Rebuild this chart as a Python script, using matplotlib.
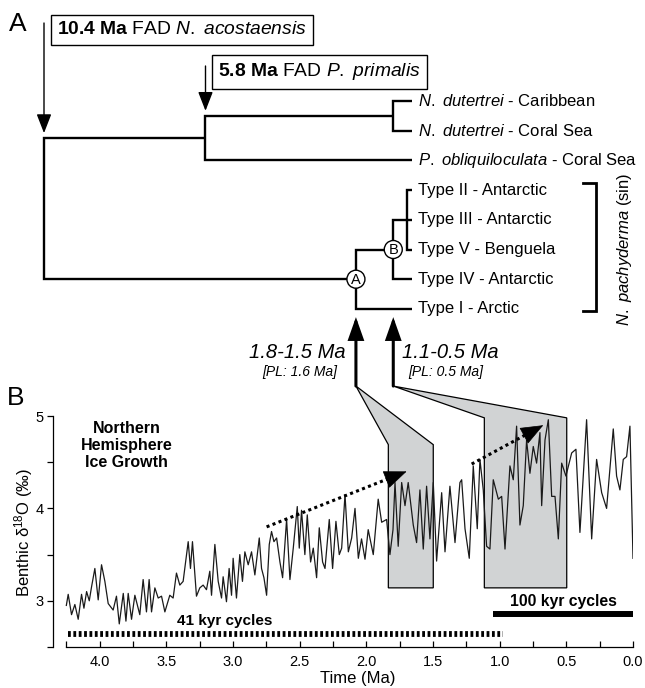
import numpy as np
import matplotlib
matplotlib.use("Agg")
import matplotlib.pyplot as plt
from matplotlib.patches import Polygon, Circle, FancyArrowPatch

plt.rcParams['font.family'] = ['Liberation Sans', 'DejaVu Sans']
plt.rcParams['mathtext.fontset'] = 'custom'
plt.rcParams['mathtext.rm'] = 'Liberation Sans'
plt.rcParams['mathtext.it'] = 'Liberation Sans:italic'
plt.rcParams['mathtext.bf'] = 'Liberation Sans:bold'

# benthic d18O stack (Ma, permil)
age = [4.250, 4.236, 4.211, 4.186, 4.161, 4.136, 4.118, 4.098, 4.078, 4.061,
       4.036, 4.011, 3.986, 3.961, 3.936, 3.899, 3.874, 3.853, 3.823, 3.803,
       3.786, 3.761, 3.736, 3.699, 3.674, 3.649, 3.629, 3.611, 3.586, 3.561,
       3.536, 3.511, 3.474, 3.449, 3.424, 3.399, 3.374, 3.336, 3.319, 3.304,
       3.274, 3.249, 3.224, 3.199, 3.174, 3.161, 3.136, 3.111, 3.086, 3.074,
       3.049, 3.029, 3.011, 2.999, 2.974, 2.949, 2.929, 2.911, 2.886, 2.861,
       2.836, 2.803, 2.786, 2.768, 2.748, 2.728, 2.711, 2.693, 2.673, 2.648,
       2.628, 2.598, 2.573, 2.548, 2.518, 2.503, 2.486, 2.461, 2.443, 2.418,
       2.398, 2.373, 2.353, 2.328, 2.310, 2.278, 2.253, 2.228, 2.203, 2.185,
       2.160, 2.135, 2.110, 2.085, 2.060, 2.036, 2.010, 1.986, 1.948, 1.911,
       1.885, 1.848, 1.823, 1.800, 1.785, 1.761, 1.735, 1.710, 1.686, 1.648,
       1.623, 1.598, 1.573, 1.548, 1.523, 1.498, 1.473, 1.435, 1.410, 1.373,
       1.335, 1.298, 1.285, 1.260, 1.228, 1.198, 1.168, 1.148, 1.123, 1.098,
       1.073, 1.048, 1.010, 0.985, 0.960, 0.923, 0.898, 0.873, 0.848, 0.823,
       0.798, 0.773, 0.748, 0.723, 0.698, 0.685, 0.660, 0.635, 0.610, 0.585,
       0.560, 0.535, 0.503, 0.460, 0.428, 0.398, 0.348, 0.310, 0.273, 0.235,
       0.198, 0.148, 0.123, 0.098, 0.073, 0.048, 0.023, 0.000]
d18o = [2.95, 3.07, 2.85, 2.96, 2.80, 3.07, 2.92, 3.10, 3.00, 3.15,
        3.35, 3.01, 3.39, 3.21, 2.97, 2.90, 3.05, 2.75, 3.08, 2.78,
        3.08, 2.80, 3.06, 2.85, 3.23, 2.88, 3.23, 2.88, 3.14, 3.03,
        3.05, 2.88, 3.06, 3.03, 3.30, 3.17, 3.21, 3.64, 3.35, 3.64,
        3.05, 3.14, 3.17, 3.12, 3.32, 3.06, 3.61, 3.21, 3.03, 3.26,
        2.99, 3.35, 3.06, 3.46, 3.03, 3.50, 3.21, 3.53, 3.39, 3.53,
        3.28, 3.68, 3.35, 3.25, 3.06, 3.61, 3.75, 3.64, 3.68, 3.42,
        3.25, 3.88, 3.23, 3.57, 4.02, 3.57, 3.98, 3.50, 3.93, 3.42,
        3.57, 3.25, 3.79, 3.42, 3.35, 3.88, 3.35, 3.86, 3.50, 3.57,
        4.15, 3.53, 3.68, 4.00, 3.46, 3.67, 3.45, 3.77, 3.50, 4.10,
        3.85, 3.88, 3.50, 3.77, 4.28, 3.59, 4.28, 4.03, 4.28, 3.82,
        3.63, 4.20, 3.56, 4.24, 3.67, 4.28, 3.43, 4.17, 3.53, 4.24,
        3.63, 4.28, 4.31, 3.78, 3.46, 4.46, 3.78, 4.53, 4.20, 3.59,
        3.56, 4.31, 4.10, 4.13, 3.56, 4.46, 4.31, 4.89, 3.82, 4.03,
        4.74, 4.38, 4.67, 4.49, 4.82, 4.03, 4.74, 4.96, 4.13, 4.13,
        3.67, 4.49, 4.35, 4.60, 4.64, 3.74, 4.96, 3.67, 4.53, 4.17,
        4.00, 4.86, 4.35, 4.20, 4.53, 4.56, 4.89, 3.46]

xticks = [4.0, 3.5, 3.0, 2.5, 2.0, 1.5, 1.0, 0.5, 0.0]
yticks = [3, 4, 5]

# tree leaves, top to bottom
leaves = [r"$\mathit{N.\ dutertrei}$ - Caribbean",
          r"$\mathit{N.\ dutertrei}$ - Coral Sea",
          r"$\mathit{P.\ obliquiloculata}$ - Coral Sea",
          "Type II - Antarctic",
          "Type III - Antarctic",
          "Type V - Benguela",
          "Type IV - Antarctic",
          "Type I - Arctic"]

# divergence nodes A and B (Ma) and the windows they point at
node_age = [2.078, 1.798]
win_old = [1.835, 1.115]
win_young = [1.498, 0.497]
win_top = [4.69, 4.98]
win_bottom = 3.14
apex_y = 5.324
arrow_tip_y = 6.07
win_text = ["1.8-1.5 Ma", "1.1-0.5 Ma"]
win_pl = ["[PL: 1.6 Ma]", "[PL: 0.5 Ma]"]

# dotted trend arrows (start, end) in (Ma, permil)
trend_start = [(2.748, 3.80), (1.21, 4.48)]
trend_end = [(1.698, 4.40), (0.673, 4.90)]

# cycle bars
bar41 = (4.24, 0.975, 2.64)
bar100 = (1.05, -0.005, 2.856)

fig = plt.figure(figsize=(6.45, 6.88), dpi=100)
top = fig.add_axes([0, 0, 1, 1])
top.set_xlim(0, 645)
top.set_ylim(688, 0)
top.axis('off')

ax = fig.add_axes([53 / 645, 41 / 688, 580 / 645, 231 / 688])
ax.patch.set_alpha(0)
ax.set_xlim(4.35, 0)
ax.set_ylim(2.5, 5.0)


def px(t):
    return ax.transData.transform((t, 3.0))[0]


# ---------- panel A : tree ----------
kw = dict(color='k', lw=1.7, solid_joinstyle='miter', solid_capstyle='butt')
ly = [101 + 29.7 * i for i in range(len(leaves))]
tip = 412
ax_A, ax_B = px(node_age[0]), px(node_age[1])
x_nd, x_up, x_iv, x_root = 393, 205, 407, 44

nd_y = (ly[0] + ly[1]) / 2
top.plot([tip, x_nd, x_nd, tip], [ly[0], ly[0], ly[1], ly[1]], **kw)
up_y = (nd_y + ly[2]) / 2
top.plot([x_nd, x_up, x_up, tip], [nd_y, nd_y, ly[2], ly[2]], **kw)
top.plot([tip, x_iv, x_iv, tip], [ly[3], ly[3], ly[5], ly[5]], **kw)
top.plot([tip, ax_B, ax_B, tip], [ly[4], ly[4], ly[6], ly[6]], **kw)
b_y = ly[5]
a_y = ly[6]
top.plot([ax_B, ax_A, ax_A, tip], [b_y, b_y, ly[7], ly[7]], **kw)
top.plot([x_up, x_root, x_root, ax_A], [up_y, up_y, a_y, a_y], **kw)

for (cx, cy, name) in [(ax_A, a_y, "A"), (ax_B, b_y, "B")]:
    top.add_patch(Circle((cx, cy), 9, fc='white', ec='k', lw=1, zorder=5))
    top.text(cx, cy + 0.5, name, ha='center', va='center', fontsize=10.5, zorder=6)

for i, lab in enumerate(leaves):
    top.text(tip + 6, ly[i], lab, ha='left', va='center', fontsize=12)

# bracket for N. pachyderma
top.plot([583, 596, 596, 583], [ly[3] - 7, ly[3] - 7, ly[7] + 2, ly[7] + 2],
         color='k', lw=2, solid_joinstyle='miter')
top.text(624, (ly[3] + ly[7]) / 2, r"$\mathit{N.\ pachyderma}$ (sin)",
         rotation=90, ha='center', va='center', fontsize=12)

# FAD boxes with arrows
box = dict(boxstyle='square,pad=0.33', fc='white', ec='k', lw=1)
top.text(57, 30, r"$\mathbf{10.4\ Ma}$ FAD $\mathit{N.\ acostaensis}$",
         fontsize=13.9, ha='left', va='center', bbox=box)
top.text(218, 72, r"$\mathbf{5.8\ Ma}$ FAD $\mathit{P.\ primalis}$",
         fontsize=13.9, ha='left', va='center', bbox=box)
for x, y0, y1 in [(x_root, 23, up_y - 5), (x_up + 0.5, 66, nd_y - 5)]:
    top.add_patch(FancyArrowPatch((x, y0), (x, y1),
                                  arrowstyle='-|>,head_length=0.9,head_width=0.35',
                                  mutation_scale=13, lw=1, color='k',
                                  shrinkA=0, shrinkB=0))

top.text(9, 24, "A", fontsize=19, va='center', ha='left')
top.text(7, 398, "B", fontsize=19, va='center', ha='left')

# window labels
top.text(ax_A - 10, 353, win_text[0], style='italic', fontsize=14.5,
         ha='right', va='center')
top.text(ax_A - 19, 372, win_pl[0], style='italic', fontsize=10,
         ha='right', va='center')
top.text(ax_B + 9, 353, win_text[1], style='italic', fontsize=14.5,
         ha='left', va='center')
top.text(ax_B + 15, 372, win_pl[1], style='italic', fontsize=10,
         ha='left', va='center')

# ---------- panel B : d18O ----------
for i in range(2):
    poly = Polygon([(node_age[i], apex_y), (win_young[i], win_top[i]),
                    (win_young[i], win_bottom), (win_old[i], win_bottom),
                    (win_old[i], win_top[i])], closed=True,
                   fc='#d1d3d4', ec='k', lw=0.9, zorder=1)
    poly.set_clip_on(False)
    ax.add_patch(poly)
    arr = FancyArrowPatch((node_age[i], apex_y), (node_age[i], arrow_tip_y),
                          arrowstyle='-|>,head_length=0.85,head_width=0.3',
                          mutation_scale=15, lw=2.2, color='k',
                          shrinkA=0, shrinkB=0, joinstyle='miter', zorder=2)
    arr.set_clip_on(False)
    ax.add_patch(arr)

ax.plot(age, d18o, color='#1a1a1a', lw=0.9, zorder=3)

for (x0, y0), (x1, y1) in zip(trend_start, trend_end):
    p0 = ax.transData.transform((x0, y0))
    p1 = ax.transData.transform((x1, y1))
    f = 1 - 15 / np.hypot(*(p1 - p0))
    xm, ym = x0 + f * (x1 - x0), y0 + f * (y1 - y0)
    ax.plot([x0, xm], [y0, ym], color='k', lw=2.2, dashes=(1, 1.1),
            dash_capstyle='butt', zorder=5)
    ax.add_patch(FancyArrowPatch((xm, ym), (x1, y1),
                                 arrowstyle='-|>,head_length=1.0,head_width=0.4',
                                 mutation_scale=15, lw=0.5, color='k',
                                 shrinkA=0, shrinkB=0, zorder=5))

ax.plot(bar41[:2], [bar41[2]] * 2, color='k', lw=4.2, dashes=(0.48, 0.44),
        dash_capstyle='butt', zorder=4)
ax.plot(bar100[:2], [bar100[2]] * 2, color='k', lw=4.3,
        solid_capstyle='butt', zorder=4)
ax.text(3.06, 2.78, "41 kyr cycles", fontsize=11, fontweight='bold',
        ha='center', va='center')
ax.text(0.525, 2.99, "100 kyr cycles", fontsize=11.3, fontweight='bold',
        ha='center', va='center')
ax.text(3.796, 4.68, "Northern\nHemisphere\nIce Growth", fontsize=11.5,
        fontweight='bold', ha='center', va='center', linespacing=1.15)

ax.set_xticks(xticks)
ax.set_xticklabels([f"{t:.1f}" for t in xticks])
ax.set_xticks(np.arange(0.25, 4.3, 0.5), minor=True)
ax.set_yticks(yticks)
ax.set_yticklabels([str(t) for t in yticks])
ax.set_yticks([2.5, 3.5, 4.5], minor=True)
ax.tick_params(axis='x', which='both', direction='in', length=4, width=0.9,
               labelsize=10.5, pad=6)
ax.tick_params(axis='y', which='both', direction='out', length=4, width=0.9,
               labelsize=10.5, pad=3)
for s in ['top', 'right']:
    ax.spines[s].set_visible(False)
ax.spines['left'].set_bounds(2.5, 5.0)
ax.spines['bottom'].set_bounds(4.25, 0.0)
ax.spines['left'].set_linewidth(0.9)
ax.spines['bottom'].set_linewidth(0.9)

top.text(358, 679, "Time (Ma)", ha='center', va='center', fontsize=12)
top.text(24, 532, r"Benthic δ$^{18}$O (‰)", rotation=90, ha='center',
         va='center', fontsize=12)

fig.savefig("out.png", dpi=100)
